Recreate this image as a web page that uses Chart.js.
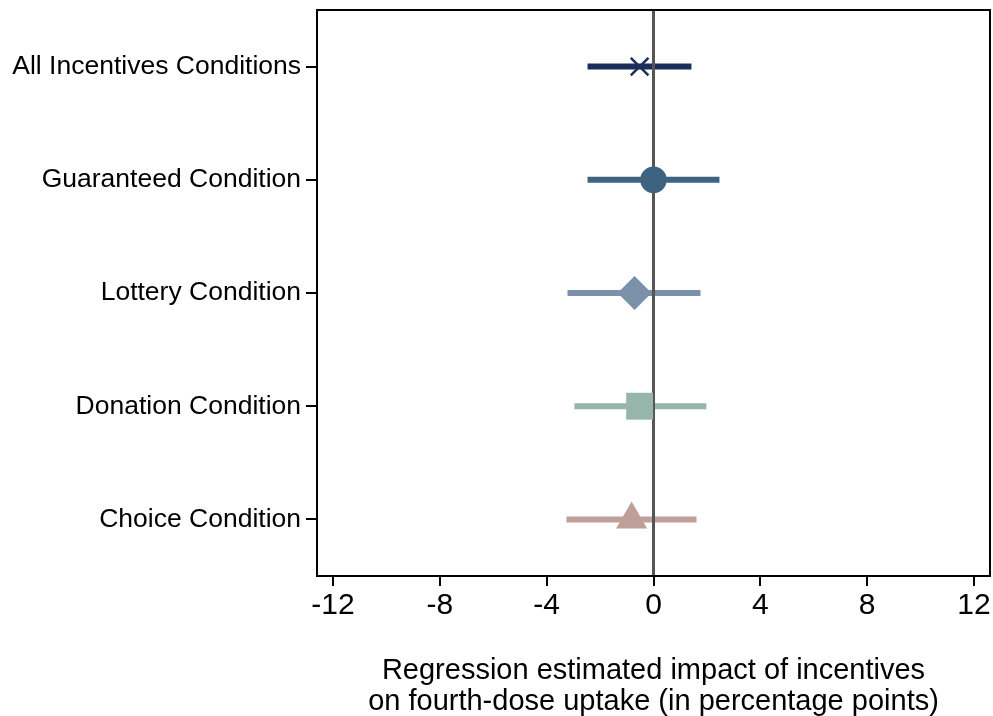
<!DOCTYPE html>
<html>
<head>
<meta charset="utf-8">
<script src="https://cdn.jsdelivr.net/npm/chart.js@4.4.1/dist/chart.umd.min.js"></script>
<style>
  body { margin: 0; background: #fff; }
  #wrap { width: 993px; height: 716px; }
</style>
</head>
<body>
<div id="wrap"><canvas id="myChart"></canvas></div>
<script>
// categories, top to bottom
const conditions = ['All Incentives Conditions', 'Guaranteed Condition', 'Lottery Condition', 'Donation Condition', 'Choice Condition'];
// point estimates and 95% CI (percentage points)
const estimates = [-0.52, 0.0, -0.71, -0.52, -0.82];
const ciLow = [-2.47, -2.47, -3.22, -2.96, -3.26];
const ciHigh = [1.42, 2.47, 1.76, 1.98, 1.61];
const xTicks = [-12, -8, -4, 0, 4, 8, 12];
const colors = ['#1d2d59', '#3d6381', '#7b91a9', '#96b5ab', '#c09f99'];
const markers = ['crossRot', 'circle', 'rectRot', 'rect', 'triangle'];
const markerSize = [12.5, 13.3, 17, 19, 18];

const datasets = [];
conditions.forEach((c, i) => {
    datasets.push({
        type: 'line',
        label: c + ' CI',
        data: [{ x: ciLow[i], y: i + 1 }, { x: ciHigh[i], y: i + 1 }],
        borderColor: colors[i],
        borderWidth: 6,
        borderCapStyle: 'butt',
        pointRadius: 0,
        order: 3
    });
});
datasets.push({
    type: 'line',
    label: 'zero',
    data: [{ x: 0, y: 0.5 }, { x: 0, y: 5.5 }],
    borderColor: '#555555',
    borderWidth: 3,
    pointRadius: 0,
    order: 2
});
datasets.push({
    type: 'scatter',
    label: 'Estimate',
    data: estimates.map((v, i) => ({ x: v, y: i + 1 })),
    pointStyle: markers,
    pointRadius: markerSize,
    pointHoverRadius: markerSize,
    backgroundColor: colors,
    borderColor: colors,
    borderWidth: [2.5, 0, 0, 0, 0],
    order: 1
});

const boxPlugin = {
    id: 'box',
    afterDraw(chart) {
        const { ctx, chartArea: a } = chart;
        ctx.save();
        ctx.strokeStyle = '#000';
        ctx.lineWidth = 2;
        ctx.strokeRect(a.left, a.top, a.right - a.left, a.bottom - a.top);
        ctx.restore();
    }
};

new Chart(document.getElementById('myChart'), {
    type: 'scatter',
    data: { datasets },
    options: {
        responsive: true,
        maintainAspectRatio: false,
        animation: false,
        layout: { autoPadding: false, padding: { top: 10, right: 3, left: 0, bottom: 0 } },
        plugins: { legend: { display: false }, tooltip: { enabled: false } },
        scales: {
            x: {
                type: 'linear',
                min: -12.6,
                max: 12.6,
                afterBuildTicks: s => { s.ticks = xTicks.map(v => ({ value: v })); },
                afterFit: s => { s.height = 140; },
                border: { display: false },
                grid: { display: true, drawOnChartArea: false, drawTicks: true, tickLength: 10, color: '#000', lineWidth: 2 },
                ticks: { color: '#000', padding: 2, font: { family: 'Liberation Sans, Arial', size: 30 }, maxRotation: 0 },
                title: {
                    display: true,
                    text: ['Regression estimated impact of incentives', 'on fourth-dose uptake (in percentage points)'],
                    color: '#000',
                    font: { family: 'Liberation Sans, Arial', size: 29, lineHeight: 1.07 },
                    padding: { top: 0, bottom: -2 }
                }
            },
            y: {
                type: 'linear',
                min: 0.5,
                max: 5.5,
                reverse: true,
                afterBuildTicks: s => { s.ticks = conditions.map((c, i) => ({ value: i + 1 })); },
                afterFit: s => { s.width = 317; },
                border: { display: false },
                grid: { display: true, drawOnChartArea: false, drawTicks: true, tickLength: 11, color: '#000', lineWidth: 2 },
                ticks: {
                    color: '#000',
                    padding: 5,
                    font: { family: 'Liberation Sans, Arial', size: 26.5, lineHeight: 0.2 },
                    callback: v => conditions[v - 1]
                }
            }
        }
    },
    plugins: [boxPlugin]
});
</script>
</body>
</html>
